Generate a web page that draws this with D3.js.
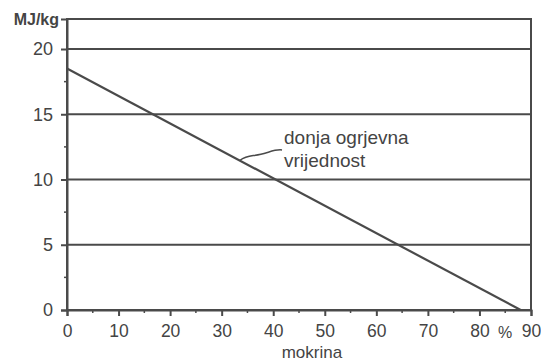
<!DOCTYPE html>
<html>
<head>
<meta charset="utf-8">
<script src="https://cdn.jsdelivr.net/npm/d3@7"></script>
<style>
  body { margin: 0; background: #fff; }
  svg { display: block; }
  text { font-family: "Liberation Sans", Arial, sans-serif; fill: #444; }
</style>
</head>
<body>
<svg id="chart" width="541" height="362"></svg>
<script>
// ---- data ----
const moisture = [0, 88];            // mokrina, %
const heatValue = [18.5, 0];         // donja ogrjevna vrijednost, MJ/kg
const xTicks = [0, 10, 20, 30, 40, 50, 60, 70, 80, 90];
const xMinorTicks = [5, 15, 25, 35, 45, 55, 65, 75, 85];
const yTicks = [0, 5, 10, 15, 20];
const yMinorTicks = [2.5, 7.5, 12.5, 17.5];
const yTop = 22.3;
const labelLines = ["donja ogrjevna", "vrijednost"];
const annotationAt = 33.5;  // mokrina at which the leader touches the line

const svg = d3.select("#chart");
const x = d3.scaleLinear().domain([0, 90]).range([67, 531]);
const y = d3.scaleLinear().domain([0, yTop]).range([310, 19]);
const ink = "#4a4a4a";
const font = "Liberation Sans, Arial, sans-serif";

// frame
svg.append("rect")
  .attr("x", x(0)).attr("y", y(yTop))
  .attr("width", x(90) - x(0)).attr("height", y(0) - y(yTop))
  .attr("fill", "none").attr("stroke", ink).attr("stroke-width", 2);

// gridlines
svg.append("g").selectAll("line").data(yTicks.filter(d => d > 0)).join("line")
  .attr("x1", x(0)).attr("x2", x(90))
  .attr("y1", d => y(d)).attr("y2", d => y(d))
  .attr("stroke", ink).attr("stroke-width", 2);

// y axis
const yAxis = d3.axisLeft(y).tickValues(yTicks).tickSize(6).tickPadding(6).tickFormat(d3.format("d"));
const gy = svg.append("g").attr("transform", `translate(${x(0)},0)`).call(yAxis);
gy.select(".domain").attr("stroke", ink).attr("stroke-width", 2);
gy.selectAll(".tick line").attr("stroke", ink).attr("stroke-width", 2);
gy.selectAll(".tick text").attr("font-size", 18).attr("fill", "#444")
  .attr("font-family", font).attr("x", -14);
svg.append("g").selectAll("line").data(yMinorTicks).join("line")
  .attr("x1", x(0) - 3).attr("x2", x(0))
  .attr("y1", d => y(d)).attr("y2", d => y(d))
  .attr("stroke", ink).attr("stroke-width", 1.5);

// x axis
const xAxis = d3.axisBottom(x).tickValues(xTicks).tickSize(6).tickPadding(9).tickFormat(d3.format("d"));
const gx = svg.append("g").attr("transform", `translate(0,${y(0)})`).call(xAxis);
gx.select(".domain").attr("stroke", ink).attr("stroke-width", 2);
gx.selectAll(".tick line").attr("stroke", ink).attr("stroke-width", 2);
gx.selectAll(".tick text").attr("font-size", 17.5).attr("fill", "#444")
  .attr("font-family", font);
svg.append("g").selectAll("line").data(xMinorTicks).join("line")
  .attr("x1", d => x(d)).attr("x2", d => x(d))
  .attr("y1", y(0)).attr("y2", y(0) + 3)
  .attr("stroke", ink).attr("stroke-width", 1.5);

// data line
const line = d3.line().x(d => x(d[0])).y(d => y(d[1]));
svg.append("path")
  .datum(d3.zip(moisture, heatValue))
  .attr("d", line)
  .attr("fill", "none").attr("stroke", ink).attr("stroke-width", 2.2);

// annotation leader
const interp = d3.scaleLinear().domain(moisture).range(heatValue);
const ax = x(annotationAt), ay = y(interp(annotationAt));
const tx = 282, ty = 150;
svg.append("path")
  .attr("d", `M${ax},${ay} C${ax + 8},${ay - 6} ${ax + 12},${ay - 4} ${(ax + tx) / 2},${(ay + ty) / 2 - 1} S${tx - 6},${ty - 1} ${tx},${ty}`)
  .attr("fill", "none").attr("stroke", ink).attr("stroke-width", 1.5);

svg.append("g").selectAll("text").data(labelLines).join("text")
  .attr("x", 284).attr("y", (d, i) => 144 + i * 22.5)
  .attr("font-size", 19).text(d => d);

// axis titles
svg.append("text").attr("x", 59).attr("y", 25).attr("text-anchor", "end")
  .attr("font-size", 16).attr("font-weight", "bold").text("MJ/kg");
svg.append("text").attr("x", x(85)).attr("y", 338).attr("text-anchor", "middle")
  .attr("font-size", 16).text("%");
svg.append("text").attr("x", x(47.5)).attr("y", 358).attr("text-anchor", "middle")
  .attr("font-size", 17).text("mokrina");
</script>
</body>
</html>
